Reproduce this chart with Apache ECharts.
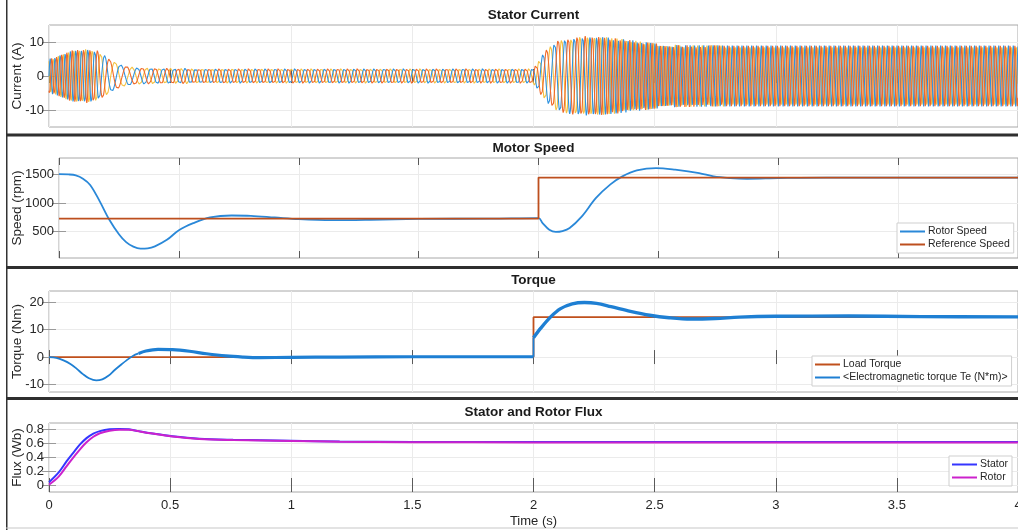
<!DOCTYPE html>
<html>
<head>
<meta charset="utf-8">
<script src="https://cdn.jsdelivr.net/npm/echarts@6/dist/echarts.min.js"></script>
<style>
  html, body { margin: 0; padding: 0; background: #fff; }
  #main { width: 1018px; height: 530px; }
</style>
</head>
<body>
<div id="main"></div>
<script>
// ---------------- data ----------------
// y-axis tick labels of each panel
const currentTicks = [-10, 0, 10];
const speedTicks = [500, 1000, 1500];
const torqueTicks = [-10, 0, 10, 20];
const fluxTicks = [0, 0.2, 0.4, 0.6, 0.8];

// stator current: peak amplitude (A) and supply frequency (Hz) over time
const currentEnvT = [0, 0.05, 0.1, 0.15, 0.2, 0.23, 0.26, 0.3, 0.35, 0.45, 2.0, 2.02, 2.05, 2.1, 2.2, 2.3, 2.4, 2.5, 2.6, 2.8, 3.0, 4.0];
const currentEnv  = [5.0, 6.5, 7.8, 8.0, 7.5, 6.0, 4.5, 3.2, 2.5, 2.3, 2.3, 4.5, 7.5, 10.5, 11.8, 11.4, 10.6, 9.6, 9.1, 9.0, 9.0, 9.0];
const supplyFreqT = [0, 0.1, 0.18, 0.22, 0.26, 0.32, 0.4, 0.5, 0.7, 2.0, 2.07, 2.2, 2.3, 2.4, 2.5, 2.6, 2.8, 3.0, 4.0];
const supplyFreq  = [50, 45, 35, 20, 14, 14, 18, 22, 24.5, 24.5, 20, 30, 44, 53, 56, 55, 50, 50, 50];

// motor speed (rpm)
const rotorSpeedT = [0, 0.04, 0.07, 0.1, 0.13, 0.17, 0.21, 0.25, 0.28, 0.31, 0.34, 0.37, 0.4, 0.45, 0.5, 0.56, 0.63, 0.72, 0.8, 0.9, 1.0, 1.14, 1.3, 1.5, 1.8, 2.0,
  2.017, 2.045, 2.072, 2.1, 2.13, 2.18, 2.24, 2.3, 2.35, 2.41, 2.49, 2.57, 2.67, 2.73, 2.8, 2.87, 3.0, 3.2, 4.0];
const rotorSpeed  = [1510, 1505, 1488, 1430, 1320, 1030, 705, 450, 310, 230, 195, 200, 235, 350, 520, 645, 745, 780, 775, 745, 715, 698, 705, 720, 725, 733,
  647, 530, 490, 505, 560, 760, 1090, 1330, 1470, 1575, 1618, 1590, 1530, 1470, 1440, 1428, 1440, 1450, 1450];
const refSpeedT = [0, 2, 2, 4];
const refSpeed  = [725, 725, 1450, 1450];

// electromagnetic torque (Nm): start-up dip, low-speed run, step response
const teStartT = [0, 0.03, 0.06, 0.09, 0.115, 0.14, 0.165, 0.195, 0.22, 0.245, 0.27, 0.3, 0.32, 0.346, 0.37];
const teStart  = [0, -0.3, -1.2, -2.6, -4.3, -6.2, -7.7, -8.5, -8.1, -6.8, -4.8, -2.6, -1.2, 0.4, 1.3];
const teMidT = [0.37, 0.4, 0.45, 0.51, 0.58, 0.65, 0.73, 0.8, 0.87, 1.0, 1.2, 1.5, 1.8, 2.0];
const teMid  = [1.3, 2.2, 2.8, 2.7, 2.1, 1.2, 0.4, 0.0, -0.2, -0.1, 0.0, 0.1, 0.1, 0.1];
const teStepT = [2.0, 2.0];
const teStep  = [0.1, 7.0];
const teLateT = [2.0, 2.03, 2.07, 2.11, 2.16, 2.21, 2.26, 2.32, 2.4, 2.48, 2.56, 2.65, 2.75, 2.85, 3.0, 3.3, 3.6, 4.0];
const teLate  = [7.0, 10.5, 14.5, 17.5, 19.3, 19.8, 19.5, 18.3, 16.6, 15.2, 14.3, 13.8, 14.0, 14.5, 14.8, 14.9, 14.7, 14.6];
const loadTorqueT = [0, 2, 2, 4];
const loadTorque  = [0, 0, 14.5, 14.5];

// flux (Wb)
const fluxT = [0, 0.04, 0.073, 0.1, 0.128, 0.155, 0.183, 0.21, 0.25, 0.29, 0.33, 0.37, 0.42, 0.51, 0.62, 0.76, 1.0, 1.2, 1.5, 2.0, 3.0, 4.0];
const statorFlux = [0.04, 0.18, 0.34, 0.46, 0.58, 0.67, 0.735, 0.77, 0.795, 0.8, 0.795, 0.77, 0.74, 0.695, 0.66, 0.645, 0.632, 0.622, 0.615, 0.613, 0.613, 0.613];
const rotorFlux  = [0.005, 0.12, 0.27, 0.39, 0.51, 0.61, 0.69, 0.74, 0.775, 0.79, 0.79, 0.768, 0.738, 0.692, 0.657, 0.642, 0.629, 0.619, 0.612, 0.609, 0.609, 0.609];

// ---------------- helpers ----------------
const pairs = (xs, ys) => xs.map((x, i) => [x, ys[i]]);
function lerp(xs, ys, x) {
  if (x <= xs[0]) return ys[0];
  for (let i = 1; i < xs.length; i++) {
    if (x <= xs[i]) {
      const f = (x - xs[i - 1]) / (xs[i] - xs[i - 1]);
      return ys[i - 1] + f * (ys[i] - ys[i - 1]);
    }
  }
  return ys[ys.length - 1];
}

// three-phase stator currents sampled from the amplitude / frequency profile
const DT = 0.0005;
const phaseA = [], phaseB = [], phaseC = [];
let theta = 0;
for (let i = 0; i <= 4 / DT; i++) {
  const t = +(i * DT).toFixed(4);
  const amp = lerp(currentEnvT, currentEnv, t);
  phaseA.push([t, amp * Math.sin(theta)]);
  phaseB.push([t, amp * Math.sin(theta - 2 * Math.PI / 3)]);
  phaseC.push([t, amp * Math.sin(theta + 2 * Math.PI / 3)]);
  theta += 2 * Math.PI * lerp(supplyFreqT, supplyFreq, t) * DT;
}

// ---------------- layout ----------------
const FONT = '"Liberation Sans", Arial, Helvetica, sans-serif';
const TXT = '#262626';
const grids = [
  { left: 49, right: 0, top: 25, height: 102 },
  { left: 59, right: 0, top: 158, height: 100 },
  { left: 49, right: 0, top: 291, height: 101 },
  { left: 49, right: 0, top: 423, height: 69 }
];
const panels = [
  { min: -15, max: 15, ticks: currentTicks, name: 'Current (A)', gap: 25 },
  { min: 30, max: 1795, ticks: speedTicks, name: 'Speed (rpm)', gap: 35 },
  { min: -12.7, max: 24, ticks: torqueTicks, name: 'Torque (Nm)', gap: 25 },
  { min: -0.1, max: 0.886, ticks: fluxTicks, name: 'Flux (Wb)', gap: 25 }
];

const xAxes = [], yAxes = [];
panels.forEach((p, g) => {
  const last = g === panels.length - 1;
  xAxes.push({
    type: 'value', gridIndex: g, position: 'bottom', min: 0, max: 4, interval: 0.5,
    axisLine: { show: false },
    axisTick: { inside: true, length: 7, lineStyle: { color: '#5a5a5a' } },
    axisLabel: { show: last, color: TXT, fontSize: 13, fontFamily: FONT, margin: 7, formatter: v => String(v) },
    splitLine: { show: true, lineStyle: { color: '#ebebeb', width: 1 } },
    name: last ? 'Time (s)' : '', nameLocation: 'middle', nameGap: 23, nameMoveOverlap: false,
    nameTextStyle: { color: TXT, fontSize: 13, fontFamily: FONT }
  });
  xAxes.push({
    type: 'value', gridIndex: g, position: 'top', min: 0, max: 4, interval: 0.5,
    axisLine: { show: false },
    axisTick: { inside: true, length: 7, lineStyle: { color: '#5a5a5a' } },
    axisLabel: { show: false }, splitLine: { show: false }
  });
  yAxes.push({
    type: 'value', gridIndex: g, position: 'left', min: p.min, max: p.max,
    axisLine: { show: false },
    axisTick: { inside: false, length: -7, customValues: p.ticks, lineStyle: { color: '#9a9a9a' } },
    axisLabel: { customValues: p.ticks, color: TXT, fontSize: 13, fontFamily: FONT, margin: 5, formatter: v => String(v) },
    splitLine: { show: true, customValues: p.ticks, lineStyle: { color: '#ebebeb', width: 1 } },
    name: p.name, nameLocation: 'middle', nameGap: p.gap, nameRotate: 90, nameMoveOverlap: false,
    nameTextStyle: { color: TXT, fontSize: 13.5, fontFamily: FONT }
  });
  yAxes.push({
    type: 'value', gridIndex: g, position: 'right', min: p.min, max: p.max,
    axisLine: { show: false },
    axisTick: { inside: false, length: -7, customValues: p.ticks, lineStyle: { color: '#9a9a9a' } },
    axisLabel: { show: false }, splitLine: { show: false }
  });
});

function line(name, data, g, color, width, extra) {
  return Object.assign({
    type: 'line', name, data, xAxisIndex: 2 * g, yAxisIndex: 2 * g,
    symbol: 'none', showSymbol: false, animation: false, clip: true,
    lineStyle: { color, width }, itemStyle: { color }
  }, extra || {});
}

const TE = '<Electromagnetic torque Te (N*m)>';
const series = [
  // stator current
  line('ic', phaseC, 0, '#f5c242', 1.1),
  line('ia', phaseA, 0, '#2e93e0', 1.1),
  line('ib', phaseB, 0, '#f06a2a', 1.1),
  // speed
  line('Rotor Speed', pairs(rotorSpeedT, rotorSpeed), 1, '#2a88d8', 1.8, { smooth: 0.35 }),
  line('Reference Speed', pairs(refSpeedT, refSpeed), 1, '#bd4f1e', 1.8),
  // torque
  line('Load Torque', pairs(loadTorqueT, loadTorque), 2, '#c0501c', 1.8),
  line(TE, pairs(teStartT, teStart), 2, '#1e7fd3', 1.8, { smooth: 0.35 }),
  line(TE, pairs(teMidT, teMid), 2, '#1e7fd3', 3.2, { smooth: 0.35 }),
  line(TE, pairs(teStepT, teStep), 2, '#1e7fd3', 1.8),
  line(TE, pairs(teLateT, teLate), 2, '#1e7fd3', 3.4, { smooth: 0.35 }),
  // flux
  line('Stator', pairs(fluxT, statorFlux), 3, '#3535ff', 2, { smooth: 0.35 }),
  line('Rotor', pairs(fluxT, rotorFlux), 3, '#cc22cc', 2, { smooth: 0.35 })
];

const legendBase = {
  orient: 'vertical', icon: 'rect', itemWidth: 25, itemHeight: 2, itemGap: 2,
  padding: [3, 4, 3, 3], selectedMode: false,
  backgroundColor: '#fff', borderColor: '#cfcfcf', borderWidth: 1,
  textStyle: { color: TXT, fontSize: 10.5, fontFamily: FONT, padding: [0, 0, 0, -2] }
};
const legends = [
  Object.assign({}, legendBase, { data: ['Rotor Speed', 'Reference Speed'], left: 897, top: 223 }),
  Object.assign({}, legendBase, { data: ['Load Torque', TE], left: 812, top: 356 }),
  Object.assign({}, legendBase, { data: ['Stator', 'Rotor'], left: 949, top: 456 })
];

const titleText = (text, y) => ({
  type: 'text', x: 533.5, y,
  style: { text, font: 'bold 13.5px ' + FONT, fill: '#1a1a1a', align: 'center', verticalAlign: 'middle' }
});
const bar = (y) => ({ type: 'rect', shape: { x: 6, y, width: 1012, height: 3 }, style: { fill: '#2f2f2f' } });

const graphic = [
  { type: 'rect', shape: { x: 6, y: 0, width: 1.5, height: 530 }, style: { fill: '#333' } },
  bar(133.5), bar(266), bar(397),
  { type: 'rect', shape: { x: 6, y: 527.5, width: 1012, height: 1 }, style: { fill: '#c8c8c8' } },
  titleText('Stator Current', 15),
  titleText('Motor Speed', 148),
  titleText('Torque', 280.5),
  titleText('Stator and Rotor Flux', 412)
];

const chart = echarts.init(document.getElementById('main'), null, { renderer: 'canvas' });
chart.setOption({
  animation: false,
  backgroundColor: '#fff',
  grid: grids.map(g => Object.assign({
    show: true, borderColor: '#a8a8a8', borderWidth: 1, backgroundColor: 'transparent',
    containLabel: false, outerBoundsMode: 'none'
  }, g)),
  xAxis: xAxes,
  yAxis: yAxes,
  legend: legends,
  series,
  graphic
});
</script>
</body>
</html>
